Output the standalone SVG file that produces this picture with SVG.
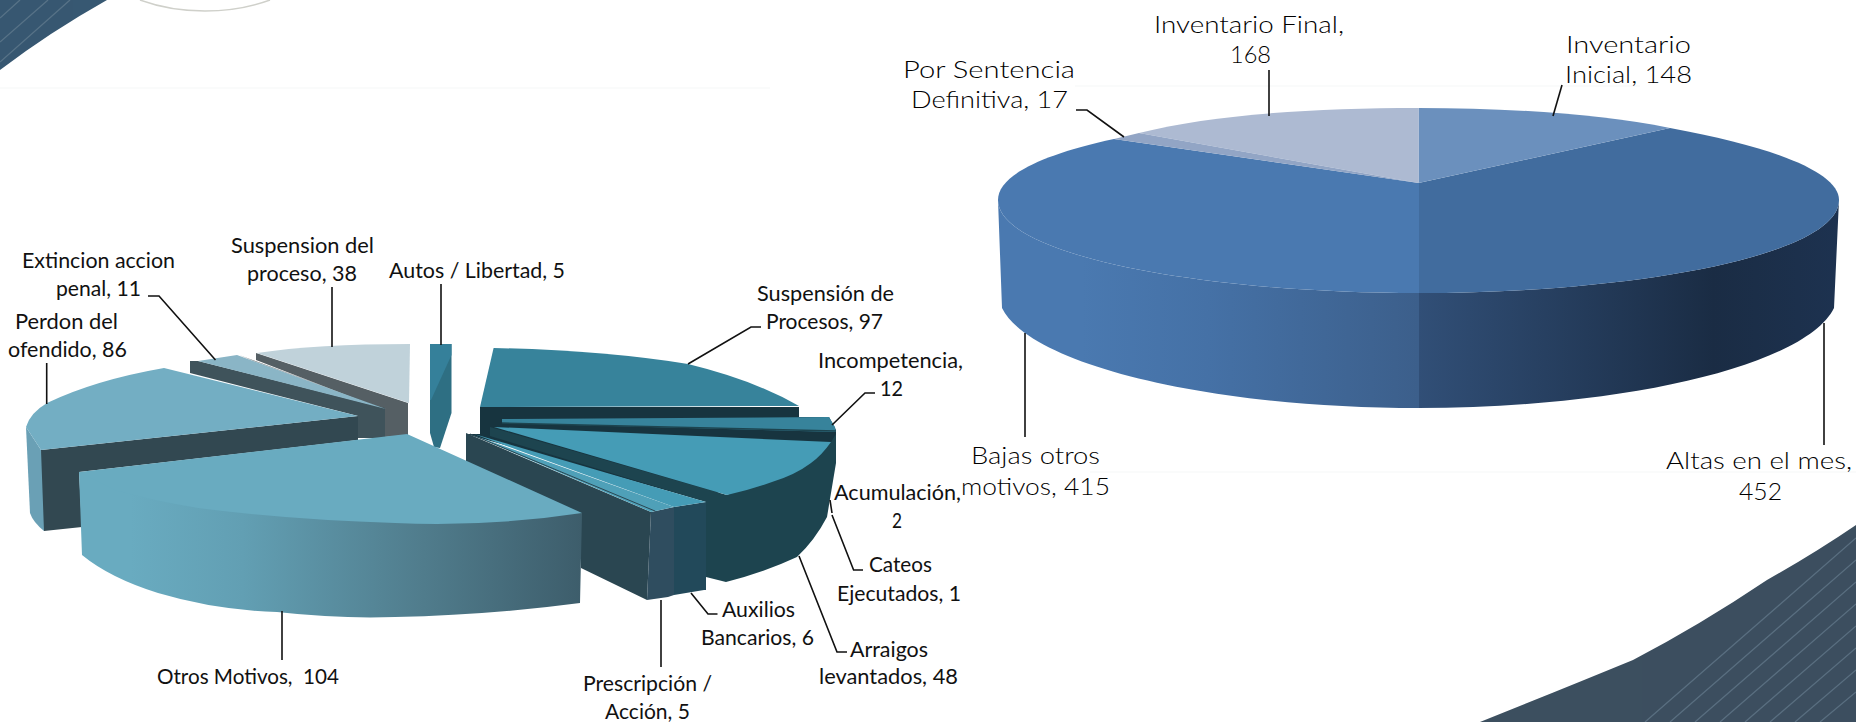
<svg xmlns="http://www.w3.org/2000/svg" width="1856" height="722" viewBox="0 0 1856 722">
<style>
text{font-family:"Lato","Liberation Sans",sans-serif;fill:#111;text-anchor:start}
.l{font-size:21px}
.r{font-size:23px;fill:#000;font-weight:300}
.c{fill:none;stroke:#111;stroke-width:1.6}
.s{stroke:#6d8496;stroke-width:1.3;opacity:.6}
</style>
<defs>
<linearGradient id="gBajas" gradientUnits="userSpaceOnUse" x1="998" y1="0" x2="1418" y2="0"><stop offset="0" stop-color="#4a79b0"/><stop offset=".2" stop-color="#4a79b0"/><stop offset=".5" stop-color="#4571a6"/><stop offset="1" stop-color="#3c5f8b"/></linearGradient>
<linearGradient id="gAltas" gradientUnits="userSpaceOnUse" x1="1418" y1="0" x2="1840" y2="0"><stop offset="0" stop-color="#314f77"/><stop offset=".7" stop-color="#1a2c44"/><stop offset="1" stop-color="#1d3250"/></linearGradient>
<linearGradient id="gOtros" gradientUnits="userSpaceOnUse" x1="130" y1="0" x2="582" y2="0"><stop offset="0" stop-color="#69abc0"/><stop offset=".25" stop-color="#629fb3"/><stop offset=".65" stop-color="#507c8c"/><stop offset="1" stop-color="#3d5d6b"/></linearGradient>
<clipPath id="cornerTL"><path d="M0 0H107Q50 32 0 70Z"/></clipPath>
<clipPath id="cornerBR"><path d="M1480 722Q1560 690 1633 660Q1700 625 1767 580Q1815 553 1856 525V722Z"/></clipPath>
</defs>
<rect width="1856" height="722" fill="#fff"/>
<g id="background">
<path d="M0 88H770M1075 86H1640M1090 472H1856" stroke="#fafbfb" stroke-width="2" fill="none"/>
<path d="M140 0Q170 11 205 11T270 0" fill="none" stroke="#cfd0ca" stroke-width="1.5"/>
<path d="M0 0H107Q50 32 0 70Z" fill="#375872"/>
<g clip-path="url(#cornerTL)"><path class="s" d="M0 18L20 0M0 42L48 0M0 62L70 0"/></g>
<path d="M1480 722Q1560 690 1633 660Q1700 625 1767 580Q1815 553 1856 525V722Z" fill="#3c4f5f"/>
<g clip-path="url(#cornerBR)"><path class="s" d="M1645 722L1856 538M1670 722L1856 560M1695 722L1856 582M1720 722L1856 604M1745 722L1856 626M1770 722L1856 648M1795 722L1856 670M1820 722L1856 692"/></g>
</g>

<g id="pie-left">
<g id="suspension-proceso">
<path d="M256 353L408 403V435L385 437V410L256 360Z" fill="#555f64"/>
<path d="M257 353Q316 344 410 344L409 403Z" fill="#c0d2da"/>
<text class="l" x="231" y="253" textLength="143" lengthAdjust="spacingAndGlyphs">Suspension del</text>
<text class="l" x="247" y="281" textLength="110" lengthAdjust="spacingAndGlyphs">proceso, 38</text>
</g>
<g id="extincion">
<path d="M190 361L198 361L385 408V438H358V416L190 373Z" fill="#3f535b"/>
<path d="M198 361L237 355L386 409Z" fill="#8ab5c6"/>
<path d="M239 355L254 361L386 409Z" fill="#555f64"/>
<text class="l" x="22" y="268" textLength="153" lengthAdjust="spacingAndGlyphs">Extincion accion</text>
<text class="l" x="56" y="296" textLength="85" lengthAdjust="spacingAndGlyphs">penal, 11</text>
</g>
<g id="perdon">
<path d="M26 427L30 513Q33 522 44 531L60 500L41 450Z" fill="#6aa0b5"/>
<path d="M41 450L358 416V440L79 472L82 527L44 531Z" fill="#324851"/>
<path d="M164 368Q95 380 47 403Q30 413 26 427L41 450L358 416Z" fill="#73aec3"/>
<text class="l" x="15" y="329" textLength="103" lengthAdjust="spacingAndGlyphs">Perdon del</text>
<text class="l" x="8" y="357" textLength="119" lengthAdjust="spacingAndGlyphs">ofendido, 86</text>
</g>
<g id="autos">
<path d="M430 344H451.500V413L440 448L434 447L430 433Z" fill="#2e6f83"/>
<path d="M430 344H451.500V355L431 400H430Z" fill="#35809a"/>
<text class="l" x="389" y="278" textLength="176" lengthAdjust="spacingAndGlyphs">Autos /  Libertad, 5</text>
</g>
<g id="suspension-procesos">
<path d="M480 407H799V417H829L836 430V445L700 500L466 434H480Z" fill="#17343f"/>
<path d="M493.600 348Q600 350 688 364Q754 380 799 406L480 407Z" fill="#37839b"/>
<text class="l" x="757" y="301" textLength="137" lengthAdjust="spacingAndGlyphs">Suspensión de</text>
<text class="l" x="766" y="329" textLength="117" lengthAdjust="spacingAndGlyphs">Procesos, 97</text>
</g>
<g id="incompetencia">
<path d="M502 419L829 417L835 427L836 432L502 423Z" fill="#37839b"/>
<path d="M502 423L836 431" stroke="#1d444f" stroke-width="1.500" fill="none"/>
<text class="l" x="818" y="368" textLength="145" lengthAdjust="spacingAndGlyphs">Incompetencia,</text>
<text class="l" x="880" y="396" textLength="23" lengthAdjust="spacingAndGlyphs">12</text>
</g>
<g id="arraigos">
<path d="M490 427L727 495L831 442L836 434L836 463L827 517Q815 540 797 557Q765 572 726 582L706 577V502L490 436Z" fill="#1d444f"/>
<path d="M494 427L831 442Q822 455 811 463Q795 475 772 482Q750 490 727 495Z" fill="#459cb6"/>
<text class="l" x="850" y="657" textLength="78" lengthAdjust="spacingAndGlyphs">Arraigos</text>
<text class="l" x="819" y="684" textLength="139" lengthAdjust="spacingAndGlyphs">levantados, 48</text>
</g>
<g id="acumulacion">
<text class="l" x="834" y="500" textLength="127" lengthAdjust="spacingAndGlyphs">Acumulación,</text>
<text class="l" x="892" y="528" textLength="10" lengthAdjust="spacingAndGlyphs">2</text>
</g>
<g id="cateos">
<text class="l" x="869" y="572" textLength="63" lengthAdjust="spacingAndGlyphs">Cateos</text>
<text class="l" x="837" y="601" textLength="124" lengthAdjust="spacingAndGlyphs">Ejecutados, 1</text>
</g>
<g id="auxilios">
<path d="M674 507L706 502V590L704 590L674 595Z" fill="#22495a"/>
<path d="M474 434L706 502L674 507Z" fill="#459cb6"/>
<text class="l" x="722" y="617" textLength="73" lengthAdjust="spacingAndGlyphs">Auxilios</text>
<text class="l" x="701" y="645" textLength="113" lengthAdjust="spacingAndGlyphs">Bancarios, 6</text>
</g>
<g id="prescripcion">
<path d="M466 433L651 512L647 600L581 568V515L466 464Z" fill="#2a4651"/>
<path d="M651 512L674 507V595L668 597L647 600Z" fill="#2f4d5f"/>
<path d="M470 434L674 507L651 512Z" fill="#4fa0b8"/>
<path d="M470 434L655 511" stroke="#2a4651" stroke-width="1" fill="none"/>
<text class="l" x="583" y="691" textLength="129" lengthAdjust="spacingAndGlyphs">Prescripción /</text>
<text class="l" x="605" y="719" textLength="85" lengthAdjust="spacingAndGlyphs">Acción, 5</text>
</g>
<g id="otros">
<path d="M79 472L82 555Q110 578 158 593Q215 610 277 612Q340 619 395 617Q490 615 580 603L582 513Z" fill="url(#gOtros)"/>
<path d="M407 434L582 513Q490 527 395 523Q290 520 198 508Q150 500 115 490L79 472Z" fill="#69abc0"/>
<text class="l" x="157" y="684" textLength="182" lengthAdjust="spacingAndGlyphs" xml:space="preserve">Otros Motivos,  104</text>
</g>
</g>

<g id="pie-right">
<g id="altas">
<path d="M1839 200L1834 308C1806 365 1627 408 1418.500 408V293C1637 293 1839 255 1839 200Z" fill="url(#gAltas)"/>
<path d="M1670 128C1780 148 1839 174 1839 200C1839 255 1637 293 1418.500 293V183Z" fill="#416c9e"/>
<text class="r" x="1666" y="469" textLength="186" lengthAdjust="spacingAndGlyphs">Altas en el mes,</text>
<text class="r" x="1739" y="500" textLength="43" lengthAdjust="spacingAndGlyphs">452</text>
</g>
<g id="bajas">
<path d="M998 200L1002 308C1030 365 1210 408 1419 408V293C1200 293 998 255 998 200Z" fill="url(#gBajas)"/>
<path d="M1114 139C1040 155 998 176 998 200C998 255 1200 293 1419 293V183Z" fill="#4a79b0"/>
<text class="r" x="971" y="464" textLength="129" lengthAdjust="spacingAndGlyphs">Bajas otros</text>
<text class="r" x="961" y="495" textLength="149" lengthAdjust="spacingAndGlyphs">motivos, 415</text>
</g>
<g id="inventario-inicial">
<path d="M1418.500 183V108C1510 108 1600 114 1670 128Z" fill="#6b90bd"/>
<text class="r" x="1566" y="53" textLength="125" lengthAdjust="spacingAndGlyphs">Inventario</text>
<text class="r" x="1565" y="83" textLength="127" lengthAdjust="spacingAndGlyphs">Inicial, 148</text>
</g>
<g id="inventario-final">
<path d="M1418.500 183V108C1310 108 1210 115 1139 133Z" fill="#adbad2"/>
<text class="r" x="1154" y="33" textLength="190" lengthAdjust="spacingAndGlyphs">Inventario Final,</text>
<text class="r" x="1230" y="63" textLength="41" lengthAdjust="spacingAndGlyphs">168</text>
</g>
<g id="sentencia">
<path d="M1418.500 183L1139 133L1114 139Z" fill="#92a5c5"/>
<text class="r" x="903" y="78" textLength="172" lengthAdjust="spacingAndGlyphs">Por Sentencia</text>
<text class="r" x="911" y="108" textLength="157" lengthAdjust="spacingAndGlyphs">Definitiva, 17</text>
</g>
</g>

<g id="connectors">
<path class="c" d="M441 284V345"/>
<path class="c" d="M332 287V347"/>
<path class="c" d="M148 296H159L215.500 360"/>
<path class="c" d="M46.700 363V404"/>
<path class="c" d="M282 611V660"/>
<path class="c" d="M761 327H751L688 364"/>
<path class="c" d="M875 393H865L832 425"/>
<path class="c" d="M830 500L832 513"/>
<path class="c" d="M832 515L853.600 570H863"/>
<path class="c" d="M799 556L837 652H847"/>
<path class="c" d="M691 593L708 614H717.500"/>
<path class="c" d="M661 600V667"/>
<path class="c" d="M1269 70V116"/>
<path class="c" d="M1562 85L1553 116"/>
<path class="c" d="M1076 110H1087L1124 137"/>
<path class="c" d="M1025 333V437"/>
<path class="c" d="M1824 323V445"/>
</g>
</svg>
